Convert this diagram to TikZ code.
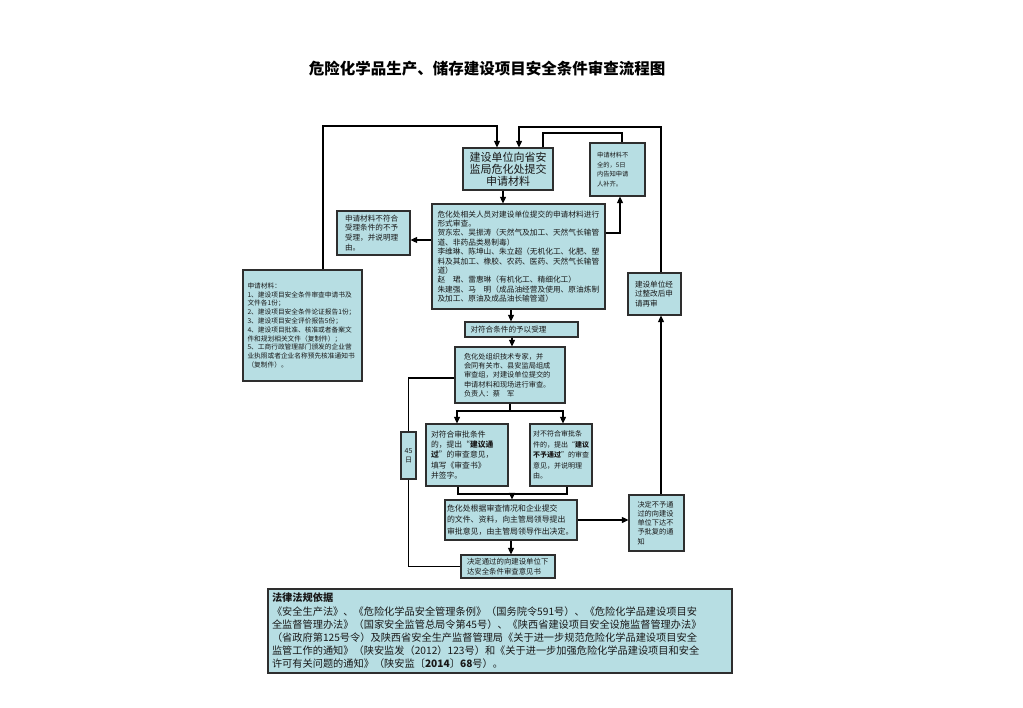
\documentclass[tikz,border=0pt]{standalone}
\usepackage{fontspec}
\setmainfont{Noto Sans CJK SC}
\usetikzlibrary{arrows.meta}
\definecolor{boxfill}{HTML}{B7DEE3}
\definecolor{boxline}{HTML}{2E2E2E}
\newcommand{\myfs}[2]{\fontsize{#1}{#2}\selectfont}
\begin{document}
\begin{tikzpicture}[x=1pt,y=-1pt,
  box/.style={draw=boxline, line width=1.2pt, fill=boxfill, align=left, text=black!90, inner ysep=1pt},
  conn/.style={draw=black, line width=1.1pt},
  arr/.style={conn, -{Triangle[length=6.5pt,width=6pt]}}]
\useasboundingbox[fill=white] (0,0) rectangle (1023,708);

\node[font=\bfseries\myfs{15.5}{18}] (title) at (487,69) {危险化学品生产、储存建设项目安全条件审查流程图};

\node[box, align=center, text width=82pt, inner xsep=4pt, minimum height=42pt, font=\myfs{11}{11.8}] (A) at (508,169) {建设单位向省安\\监局危化处提交\\申请材料};

\node[box, text width=41pt, inner xsep=7pt, minimum height=53pt, font=\myfs{6.3}{9.5}] (B) at (617.5,169.5) {申请材料不\\全的，5日\\内告知申请\\人补齐。};

\node[box, text width=57pt, inner xsep=8pt, minimum height=44pt, font=\myfs{7.6}{9.8}] (C) at (373.5,233) {申请材料不符合\\受理条件的不予\\受理，并说明理\\由。};

\node[box, text width=162pt, inner xsep=5.5pt, minimum height=105pt, font=\myfs{7.7}{9.4}] (D) at (518.5,256.5) {危化处相关人员对建设单位提交的申请材料进行\\形式审查。\\贺东宏、吴振涛（天然气及加工、天然气长输管\\道、非药品类易制毒）\\李维琳、陈坤山、朱立超（无机化工、化肥、塑\\料及其加工、橡胶、农药、医药、天然气长输管\\道）\\赵　珺、雷惠琳（有机化工、精细化工）\\朱建强、马　明（成品油经营及使用、原油炼制\\及加工、原油及成品油长输管道）};

\node[box, text width=110pt, inner xsep=4.5pt, minimum height=111pt, font=\myfs{6.7}{8.8}] (E) at (302.5,325.5) {申请材料：\\1、建设项目安全条件审查申请书及\\文件各1份；\\2、建设项目安全条件论证报告1份；\\3、建设项目安全评价报告5份；\\4、建设项目批准、核准或者备案文\\件和规划相关文件（复制件）；\\5、工商行政管理部门颁发的企业营\\业执照或者企业名称预先核准通知书\\（复制件）。};

\node[box, text width=102pt, inner xsep=5.5pt, minimum height=15pt, font=\myfs{7.6}{9}] (F) at (521.5,329.5) {对符合条件的予以受理};

\node[box, text width=92pt, inner xsep=9pt, minimum height=56pt, font=\myfs{7.2}{9.3}] (G) at (510,375) {危化处组织技术专家，并\\会同有关市、县安监局组成\\审查组，对建设单位提交的\\申请材料和现场进行审查。\\负责人：蔡　军};

\node[box, align=center, text width=11pt, inner xsep=2pt, minimum height=47pt, font=\myfs{7}{9.5}] (D45) at (408.5,455.5) {45\\日};

\node[box, text width=72pt, inner xsep=5pt, minimum height=62pt, font=\myfs{7.8}{10.4}] (H) at (467,455) {对符合审批条件\\的，提出“\textbf{建议通}\\\textbf{过}”的审查意见，\\填写《审查书》\\并签字。};

\node[box, text width=56pt, inner xsep=3pt, minimum height=62pt, font=\myfs{7}{10.4}] (I) at (561,455) {对不符合审批条\\件的，提出“\textbf{建议}\\\textbf{不予通过}”的审查\\意见，并说明理\\由。};

\node[box, text width=128pt, inner xsep=2pt, minimum height=40pt, font=\myfs{7.9}{11.1}] (J) at (511,520) {危化处根据审查情况和企业提交\\的文件、资料，向主管局领导提出\\审批意见，由主管局领导作出决定。};

\node[box, text width=38pt, inner xsep=8.5pt, minimum height=56pt, font=\myfs{7.2}{9.2}] (K) at (656.5,523) {决定不予通\\过的向建设\\单位下达不\\予批复的通\\知};

\node[box, text width=82pt, inner xsep=6pt, minimum height=23pt, font=\myfs{7.4}{10}] (L) at (508,566.5) {决定通过的向建设单位下\\达安全条件审查意见书};

\node[box, text width=39pt, inner xsep=7pt, minimum height=42pt, font=\myfs{7.6}{9.2}] (M) at (654.5,294) {建设单位经\\过整改后申\\请再审};

\node[box, text width=456pt, inner xsep=4pt, minimum height=84pt, font=\myfs{10.2}{13.2}] (N) at (500,631) {\textbf{法律法规依据}\\《安全生产法》、《危险化学品安全管理条例》（国务院令591号）、《危险化学品建设项目安\\全监督管理办法》（国家安全监管总局令第45号）、《陕西省建设项目安全设施监督管理办法》\\（省政府第125号令）及陕西省安全生产监督管理局《关于进一步规范危险化学品建设项目安全\\监管工作的通知》（陕安监发（2012）123号）和《关于进一步加强危险化学品建设项目和安全\\许可有关问题的通知》（陕安监〔\textbf{2014}〕\textbf{68}号）。};

% helper coordinates
\coordinate (eT) at (323,126);
\coordinate (mT) at (661,127);
\coordinate (bT) at (622,133);
\coordinate (dB) at (620,233);
\coordinate (dC) at (420,240);
\coordinate (gB) at (510,411);
\coordinate (gL) at (408.5,378);
\coordinate (hJ) at (512,494);

% connectors
\draw[arr] (E.north -| eT) -- (eT) -| ([xshift=-11pt]A.north);
\draw[arr] (M.north -| mT) -- (mT) -| ([xshift=11pt]A.north);
\draw[conn] ([xshift=35pt]A.north) |- (bT) -- (bT |- B.north);
\draw[arr] ([xshift=-5pt]A.south) -- ([xshift=-5pt]A.south |- D.north);
\draw[arr] (D.east |- dB) -- (dB) -- (dB |- B.south);
\draw[arr] (D.west |- dC) -- (C.east |- dC);
\draw[arr] ([xshift=-7.5pt]D.south) -- ([xshift=-7.5pt]D.south |- F.north);
\draw[arr] ([xshift=-9.5pt]F.south) -- ([xshift=-9.5pt]F.south |- G.north);
\draw[conn] (G.south -| gB) -- (gB);
\draw[arr] (gB) -| ([xshift=-10pt]H.north);
\draw[arr] (gB) -| ([xshift=2pt]I.north);
\draw[conn] (G.west |- gL) -- (gL) -- (D45.north);
\draw[conn] (D45.south) |- (L.west);
\draw[conn] ([xshift=-9pt]H.south) |- (hJ) -| ([xshift=6pt]I.south);
\draw[arr] (hJ) -- (hJ |- J.north);
\draw[arr] (J.east) -- (J.east -| K.west);
\draw[arr] (J.south) -- (J.south |- L.north);
\draw[arr] ([xshift=4.5pt]K.north) -- ([xshift=4.5pt]K.north |- M.south);
\end{tikzpicture}
\end{document}
